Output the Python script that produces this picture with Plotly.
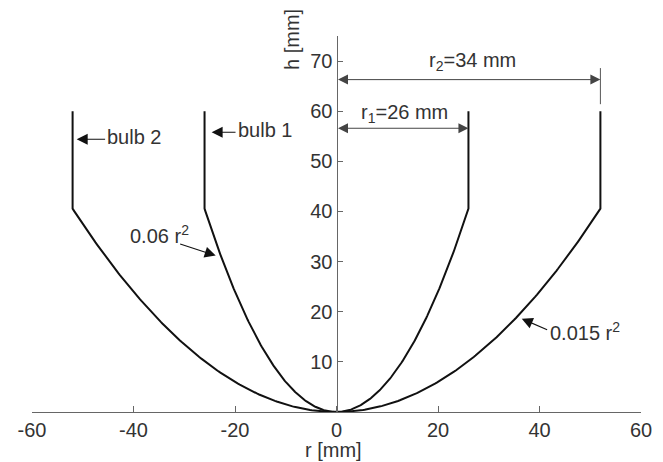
import numpy as np
import plotly.graph_objects as go

# Bulb profiles: h = a * r^2 up to the rim radius, then vertical walls
coeffs = [0.06, 0.015]          # parabola coefficients [1/mm]
rim_radius = [26, 52]           # r where the wall turns vertical [mm]
wall_top = 60                   # top of the vertical walls [mm]
bulb_names = ["bulb 1", "bulb 2"]

# Axis ticks
x_ticks = [-60, -40, -20, 0, 20, 40, 60]
x_tick_text = ["-60", "-40", "-20", "0", "20", "40", "60"]
y_ticks = [10, 20, 30, 40, 50, 60, 70]

FONT = "Liberation Sans, Arial, sans-serif"
FS = 20
TXT = "#333333"
AX = "#666666"

fig = go.Figure()

for a, R, name in zip(coeffs, rim_radius, bulb_names):
    r = np.linspace(-R, R, 301)
    h = a * r ** 2
    xs = np.concatenate([[-R], r, [R]])
    ys = np.concatenate([[wall_top], h, [wall_top]])
    fig.add_trace(go.Scatter(x=xs, y=ys, mode="lines", name=name,
                             line=dict(color="#111111", width=2),
                             showlegend=False, hoverinfo="skip"))

annotations = []

def arrow(x, y, ax, ay, color="#111111", side="end", width=1.1, size=2.0):
    annotations.append(dict(x=x, y=y, ax=ax, ay=ay, xref="x", yref="y",
                            axref="x", ayref="y", text="", showarrow=True,
                            arrowhead=2, arrowsize=size, arrowwidth=width,
                            arrowcolor=color, arrowside=side, standoff=0,
                            startstandoff=0))

def label(x, y, text, xanchor="center"):
    annotations.append(dict(x=x, y=y, xref="x", yref="y", text=text,
                            showarrow=False, xanchor=xanchor, yanchor="middle",
                            font=dict(family=FONT, size=FS, color=TXT)))

# Pointer arrows and labels for the two bulbs
arrow(-51.2, 54.4, -45.3, 54.4)
label(-45.6, 54.8, "bulb 2", xanchor="left")
arrow(-24.6, 55.8, -19.6, 55.8)
label(-19.9, 56.2, "bulb 1", xanchor="left")

# Curve equations
arrow(-23.8, 31.2, -31.1, 33.6)
label(-28.6, 35.4, "0.06 r<sup>2</sup>", xanchor="right")
arrow(36.5, 18.6, 41.8, 16.3)
label(41.6, 16.0, "0.015 r<sup>2</sup>", xanchor="left")

# Dimension arrows for the radii
arrow(rim_radius[1], 66.3, 0, 66.3, color="#444444", side="end+start", width=1, size=2.0)
arrow(rim_radius[0], 56.6, 0, 56.6, color="#444444", side="end+start", width=1, size=2.0)
label(26.7, 70.0, "r<sub>2</sub>=34 mm")
label(13.3, 59.6, "r<sub>1</sub>=26 mm")

# Axis titles, placed in pixels and converted to paper fractions below
annotations.append(dict(x=333, y=450, text="r [mm]", textangle=0))
annotations.append(dict(x=292, y=40, text="h [mm]", textangle=-90))

W, H = 663, 462
ML, MR, MT, MB = 32, 22, 36, 50
pw, ph = W - ML - MR, H - MT - MB
for ann in annotations[-2:]:
    ann.update(x=(ann["x"] - ML) / pw, y=1 - (ann["y"] - MT) / ph,
               xref="paper", yref="paper", xanchor="center", yanchor="middle",
               showarrow=False, font=dict(family=FONT, size=FS, color=TXT))

fig.update_layout(
    width=W, height=H,
    margin=dict(l=ML, r=MR, t=MT, b=MB),
    paper_bgcolor="white", plot_bgcolor="white",
    font=dict(family=FONT, size=FS, color=TXT),
    annotations=annotations,
    shapes=[dict(type="line", xref="x", yref="y", x0=52, x1=52, y0=61.4, y1=68.6,
                 line=dict(color="#555555", width=1))],
    xaxis=dict(range=[-60, 60], tickvals=x_ticks, ticktext=x_tick_text,
               ticks="inside", ticklen=6, tickcolor=AX, showline=True,
               linecolor=AX, linewidth=1, showgrid=False, zeroline=False,
               fixedrange=True),
    yaxis=dict(range=[0, 75], tickvals=y_ticks, ticks="inside", ticklen=5,
               tickcolor=AX, showline=True, linecolor=AX, linewidth=1,
               showgrid=False, zeroline=False, anchor="free", position=0.5,
               fixedrange=True),
)

fig.write_html("out.html")
